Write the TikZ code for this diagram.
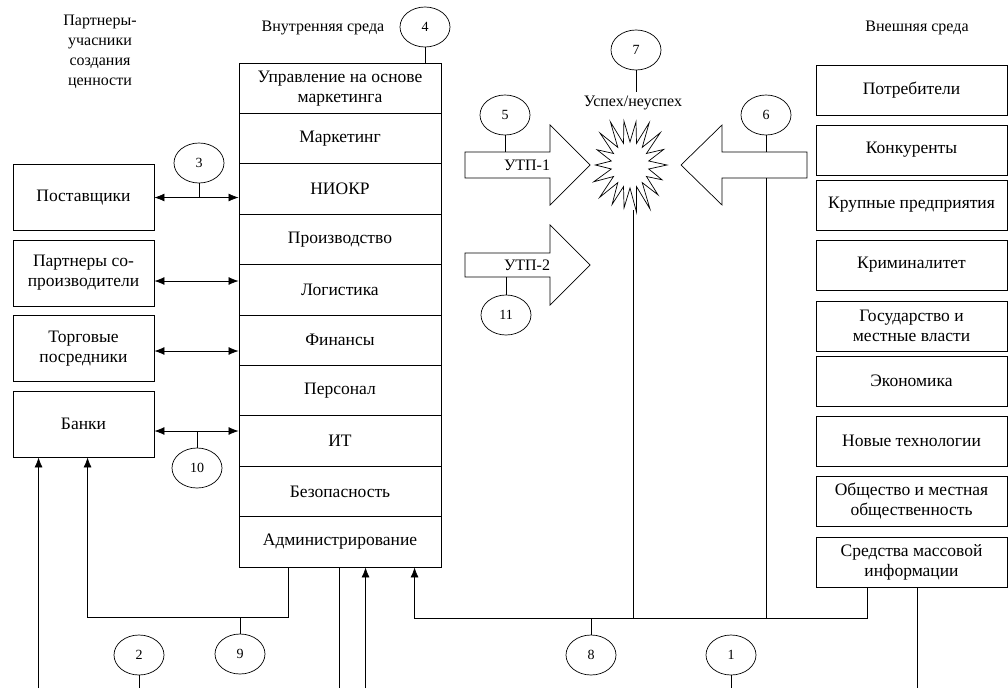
\documentclass[tikz,border=0pt]{standalone}
\usepackage{fontspec}
\setmainfont{Liberation Serif}
\usetikzlibrary{shapes.geometric,arrows.meta}

\newcommand{\boxtxt}{\fontsize{17.5}{20}\selectfont}
\newcommand{\headtxt}{\fontsize{16}{20}\selectfont}
\newcommand{\numtxt}{\fontsize{14}{16}\selectfont}

\begin{document}
\begin{tikzpicture}[x=1pt, y=-1pt,
    row/.style={draw, line width=0.9pt, minimum width=202, minimum height=50.4, inner sep=0, align=center, font=\boxtxt},
    leftbox/.style={draw, line width=0.9pt, minimum width=141, minimum height=66, inner sep=0, align=center, font=\boxtxt},
    rightbox/.style={draw, line width=0.9pt, minimum width=191, minimum height=50, inner sep=0, align=center, font=\boxtxt},
    num/.style={draw, ellipse, line width=0.7pt, minimum width=50, minimum height=40, inner sep=0, font=\numtxt},
    head/.style={align=center, font=\headtxt},
    link/.style={line width=0.7pt},
    arr/.style={line width=0.7pt, -{Latex[length=10pt,width=8pt]}},
    dbl/.style={line width=0.7pt, {Latex[length=10pt,width=8pt]}-{Latex[length=10pt,width=8pt]}}]
  \useasboundingbox (0,0) rectangle (1008,688);
  \coordinate (bot) at (0,688);
  \coordinate (hl) at (0,618);
  \coordinate (h9) at (0,617);

  % headings
  \node[head] (partners) at (100,52) {Партнеры-\\учасники\\создания\\ценности};
  \node[head] (inner) at (323,28) {Внутренняя среда};
  \node[head] (outer) at (917,28) {Внешняя среда};

  % internal environment
  \foreach \t [count=\i] in {{Управление на основе\\маркетинга}, Маркетинг, НИОКР, Производство,
      Логистика, Финансы, Персонал, ИТ, Безопасность, Администрирование}
    \node[row] (r\i) at (340, {88.2+50.4*(\i-1)}) {\t};

  % partners
  \node[leftbox] (post) at (83.5,197.5) {Поставщики};
  \node[leftbox] (copr) at (83.5,273) {Партнеры со-\\производители};
  \node[leftbox] (trade) at (83.5,348.5) {Торговые\\посредники};
  \node[leftbox] (bank) at (83.5,424) {Банки};

  % external environment
  \foreach \y/\t [count=\i] in {90/Потребители, 150/Конкуренты, 205/Крупные предприятия,
      265/Криминалитет, 326/{Государство и\\местные власти}, 381/Экономика,
      441/Новые технологии, 501/{Общество и местная\\общественность},
      562/{Средства массовой\\информации}}
    \node[rightbox] (e\i) at (911.5,\y) {\t};

  % USP arrows and result
  \draw[line width=0.7pt] (465,152) -- (550,152) -- (550,125) -- (590,165) -- (550,205) -- (550,178) -- (465,178) -- cycle;
  \node[head] (utp1) at (527,165) {УТП-1};
  \draw[line width=0.7pt] (465,253) -- (550,253) -- (550,225) -- (590,265) -- (550,305) -- (550,277) -- (465,277) -- cycle;
  \node[head] (utp2) at (527,265) {УТП-2};
  \draw[line width=0.7pt] (807,152) -- (722,152) -- (722,125) -- (681,165) -- (722,205) -- (722,178) -- (807,178) -- cycle;
  \draw[line width=0.7pt] plot[samples at={0,...,35}, variable=\k]
    ({630+ifthenelse(mod(\k,2)==0,37*(1+0.08*sin(\k*137)),19)*cos(\k*10)},
     {165+ifthenelse(mod(\k,2)==0,47*(1+0.08*sin(\k*137)),23)*sin(\k*10)}) -- cycle;
  \node[head] (succ) at (633,103) {Успех/неуспех};
  \coordinate (u1top) at (505,152);
  \coordinate (u2bot) at (506,277);
  \coordinate (a6top) at (766,152);
  \coordinate (a6bot) at (766,178);
  \coordinate (starb) at (633,210);

  % numbered markers
  \node[num] (c1) at (731,655) {1};
  \node[num] (c2) at (139,655) {2};
  \node[num] (c3) at (199,163) {3};
  \node[num] (c4) at (425,27) {4};
  \node[num] (c5) at (505,115) {5};
  \node[num] (c6) at (766,115) {6};
  \node[num] (c7) at (636,50) {7};
  \node[num] (c8) at (591,655) {8};
  \node[num] (c9) at (240,654) {9};
  \node[num] (c10) at (197,468) {10};
  \node[num] (c11) at (506,315) {11};

  % partner links
  \coordinate (pp) at ([yshift=-8pt]copr.east);
  \coordinate (tp) at ([yshift=-2.5pt]trade.east);
  \coordinate (bk) at ([yshift=-7pt]bank.east);
  \draw[dbl] (post.east) -- (post.east -| r3.west);
  \draw[dbl] (pp) -- (pp -| r5.west);
  \draw[dbl] (tp) -- (tp -| r6.west);
  \draw[dbl] (bk) -- (bk -| r8.west);

  % bottom links
  \coordinate (bk1) at ([xshift=26pt]bank.south west);
  \coordinate (bk2) at ([xshift=75pt]bank.south west);
  \coordinate (adm9) at ([xshift=50pt]r10.south west);
  \coordinate (s1) at ([xshift=101pt]r10.south west);
  \coordinate (s2) at ([xshift=127pt]r10.south west);
  \coordinate (s3) at ([xshift=176pt]r10.south west);
  \coordinate (m1) at ([xshift=-44.5pt]e9.south);
  \coordinate (m2) at ([xshift=5.5pt]e9.south);
  \draw[arr] (bk1 |- bot) -- (bk1);
  \draw[arr] (adm9) -- (adm9 |- h9) -| (bk2);
  \draw[link] (s1) -- (s1 |- bot);
  \draw[arr] (s2 |- bot) -- (s2);
  \draw[arr] (m1) -- (m1 |- hl) -| (s3);
  \draw[link] (starb) -- (starb |- hl);
  \draw[link] (a6bot) -- (a6bot |- hl);
  \draw[link] (m2) -- (m2 |- bot);

  % marker leaders
  \draw[link] (c1) -- (c1 |- bot);
  \draw[link] (c2) -- (c2 |- bot);
  \draw[link] (c3) -- (c3 |- post.east);
  \draw[link] (c4) -- (c4 |- r1.north);
  \draw[link] (c5) -- (u1top);
  \draw[link] (c6) -- (a6top);
  \draw[link] (c7) -- (c7 |- succ.north);
  \draw[link] (c8) -- (c8 |- hl);
  \draw[link] (c9) -- (c9 |- h9);
  \draw[link] (c10) -- (c10 |- bk);
  \draw[link] (c11) -- (u2bot);
\end{tikzpicture}
\end{document}
